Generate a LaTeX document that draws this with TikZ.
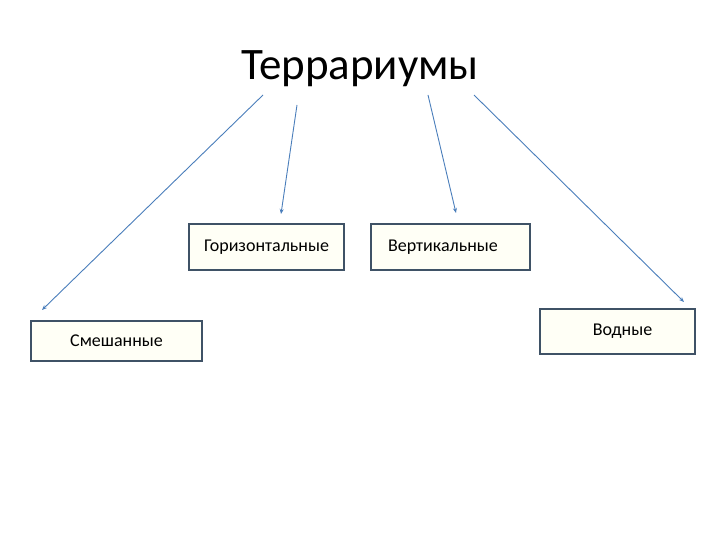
\documentclass[tikz,border=0pt]{standalone}
\usepackage{fontspec}
\setmainfont{Carlito}
\usetikzlibrary{arrows.meta}
\definecolor{boxline}{HTML}{3F5266}
\definecolor{boxfill}{HTML}{FFFFF6}
\definecolor{arrowblue}{HTML}{4A7EBB}
\begin{document}
\begin{tikzpicture}[x=1pt,y=-1pt,
  catbox/.style={draw=boxline,line width=1.4pt,fill=boxfill,inner sep=0pt,font=\fontsize{18}{20}\selectfont},
  link/.style={draw=arrowblue,line width=0.9pt,-{Stealth[length=5pt,width=4pt]}}]
\useasboundingbox (0,0) rectangle (720,540);
\fill[white] (0,0) rectangle (720,540);
\node[font=\fontsize{45}{50}\selectfont,anchor=base] (title) at (360,80) {Террариумы};
\node[catbox,minimum width=155pt,minimum height=46pt] (gor) at (266.5,247) {Горизонтальные};
\node[catbox,minimum width=159pt,minimum height=46pt,text width=145pt,align=left] (ver) at (450.5,247) {\hspace*{10pt}Вертикальные};
\node[catbox,minimum width=171pt,minimum height=40pt] (sme) at (116.5,341) {Смешанные};
\node[catbox,minimum width=155pt,minimum height=45pt] (vod) at (617.5,331.5) {\hspace*{10pt}Водные};
\coordinate (s1) at (263,95); \coordinate (e1) at (42,310);
\coordinate (s2) at (297,105); \coordinate (e2) at (281,214);
\coordinate (s3) at (428,95); \coordinate (e3) at (456,213);
\coordinate (s4) at (474,95); \coordinate (e4) at (684,302);
\draw[link] (s1) -- (e1);
\draw[link] (s2) -- (e2);
\draw[link] (s3) -- (e3);
\draw[link] (s4) -- (e4);
\end{tikzpicture}
\end{document}
